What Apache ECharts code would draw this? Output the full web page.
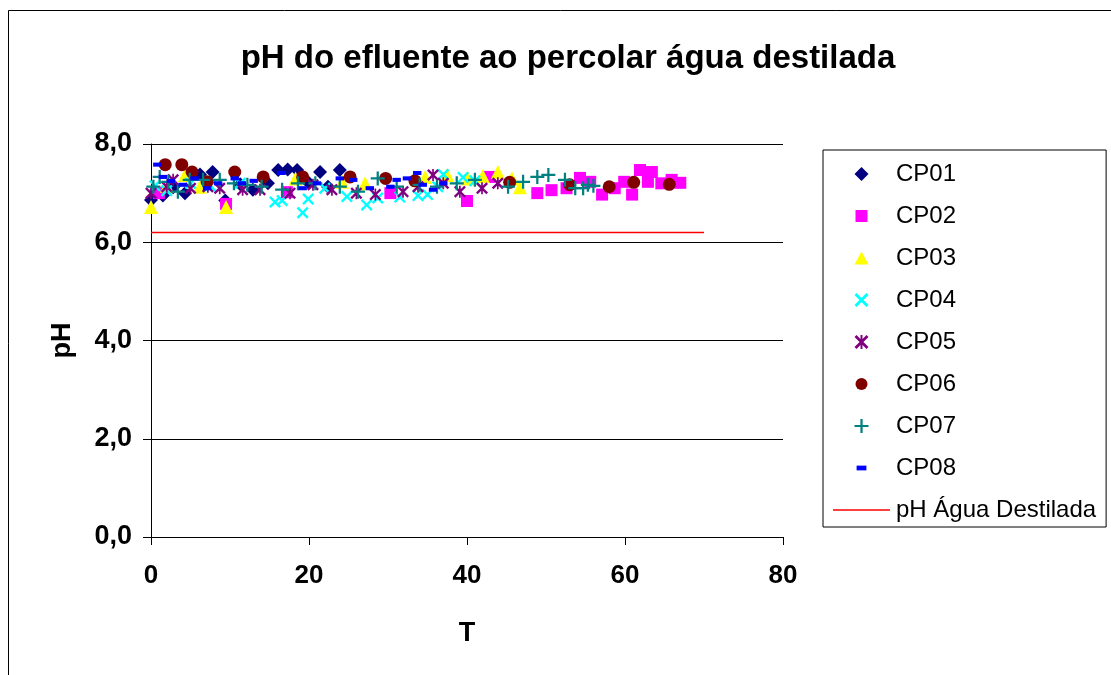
<!DOCTYPE html>
<html>
<head>
<meta charset="utf-8">
<script src="https://cdn.jsdelivr.net/npm/echarts@6/dist/echarts.min.js"></script>
<style>
  html, body { margin: 0; padding: 0; background: #ffffff; }
  #chart { width: 1111px; height: 675px; }
</style>
</head>
<body>
<div id="chart"></div>
<script>
const FONT = "'Liberation Sans', Arial, Helvetica, sans-serif";

// Series names (legend order)
const seriesNames = ['CP01', 'CP02', 'CP03', 'CP04', 'CP05', 'CP06', 'CP07', 'CP08'];
const refLineName = 'pH Água Destilada';

// Time (T) and pH readings for each column
const cp01T  = [0, 1.5, 2.8, 4.3, 6.2, 7.8, 9.4, 11.3, 12.9, 14.8, 16.1, 17.3, 18.5, 19.9, 21.4, 22.4, 23.9];
const cp01PH = [6.86, 6.95, 7.12, 7.0, 7.38, 7.43, 6.85, 7.18, 7.07, 7.2, 7.47, 7.48, 7.47, 7.22, 7.43, 7.13, 7.47];

const cp02T  = [1, 9.5, 17.2, 30.3, 40, 42.8, 48.9, 50.7, 52.6, 54.3, 55.6, 57.1, 58.7, 59.9, 60.9, 61.9, 62.9, 63.4, 64.6, 65.9, 67];
const cp02PH = [7.0, 6.78, 7.02, 7.0, 6.84, 7.33, 7.0, 7.06, 7.1, 7.31, 7.23, 6.97, 7.1, 7.23, 6.97, 7.47, 7.23, 7.43, 7.2, 7.27, 7.21];

const cp03T  = [0, 2, 4.3, 6.2, 9.5, 18.3, 24.2, 27.1, 34.7, 37.5, 40.1, 42, 43.9, 45.7, 46.7];
const cp03PH = [6.72, 7.15, 7.37, 7.13, 6.72, 7.3, 7.23, 7.2, 7.33, 7.37, 7.3, 7.35, 7.43, 7.3, 7.12];

const cp04T  = [0.5, 2, 5, 7.5, 11.3, 15.7, 16.6, 19.2, 19.9, 22, 24.8, 27.3, 28.7, 31.5, 33.8, 35, 36.3, 37, 39.5, 41];
const cp04PH = [7.15, 7.05, 7.2, 7.15, 7.2, 6.82, 6.85, 6.6, 6.88, 7.1, 6.93, 6.76, 6.9, 6.92, 6.95, 6.97, 7.13, 7.38, 7.32, 7.25];

const cp05T  = [0, 2, 2.8, 5, 7.2, 8.7, 11.6, 13.8, 17.6, 20.5, 22.9, 26, 28.4, 31.9, 33.8, 35.7, 37, 39.1, 41.9, 43.9];
const cp05PH = [7.0, 7.13, 7.27, 7.1, 7.13, 7.1, 7.07, 7.07, 7.0, 7.17, 7.07, 7.0, 6.97, 7.03, 7.13, 7.37, 7.2, 7.03, 7.1, 7.2];

const cp06T  = [1.8, 3.9, 5.2, 7.1, 10.6, 14.2, 19.2, 25.2, 29.7, 33.4, 45.4, 53, 58, 61.1, 65.6];
const cp06PH = [7.58, 7.58, 7.43, 7.23, 7.43, 7.33, 7.33, 7.33, 7.3, 7.25, 7.22, 7.17, 7.13, 7.22, 7.18];

const cp07T  = [0.3, 1.1, 2.2, 3.4, 4.9, 6.6, 8.7, 10.5, 12.2, 14, 16.6, 18.6, 20.8, 23.9, 26.2, 28.7, 31.1, 34, 36.2, 38.7, 41, 45.2, 47.1, 48.9, 50.3, 52.4, 53.7, 54.7, 55.3, 56];
const cp07PH = [7.13, 7.33, 7.23, 7.03, 7.27, 7.27, 7.27, 7.2, 7.17, 7.13, 7.07, 7.2, 7.2, 7.13, 7.03, 7.3, 7.13, 7.17, 7.13, 7.2, 7.27, 7.13, 7.23, 7.33, 7.37, 7.27, 7.1, 7.1, 7.17, 7.15];

const cp08T  = [0.8, 1.5, 2.5, 4, 5.5, 7.1, 8.5, 10.6, 11.5, 13, 16.5, 19.2, 21, 23.9, 25.6, 27.7, 30.3, 31.1, 32.4, 33.7, 34.4, 35.7, 37];
const cp08PH = [7.58, 7.33, 7.25, 7.17, 7.3, 7.1, 7.2, 7.3, 7.2, 7.25, 7.41, 7.1, 7.2, 7.3, 7.27, 7.1, 7.13, 7.27, 7.3, 7.41, 7.17, 7.07, 7.2];

// Reference: pH of the distilled water used for percolation
const refLineT  = [0, 70];
const refLinePH = [6.2, 6.2];

// Axis ranges
const xRange = { min: 0, max: 80, step: 20 };
const yRange = { min: 0, max: 8, step: 2 };

// Marker shapes (plot)
const SYM_X    = 'path://M0,1.4L1.4,0L5,3.6L8.6,0L10,1.4L6.4,5L10,8.6L8.6,10L5,6.4L1.4,10L0,8.6L3.6,5Z';
const SYM_AST  = 'path://M0,1.4L1.4,0L5,3.6L8.6,0L10,1.4L6.4,5L10,8.6L8.6,10L5,6.4L1.4,10L0,8.6L3.6,5Z M4.3,0H5.7V10H4.3Z';
const SYM_PLUS = 'path://M4.2,0H5.8V4.2H10V5.8H5.8V10H4.2V5.8H0V4.2H4.2Z';
const SYM_DASH = 'path://M0,0M1.5,3.3H8.5V6.7H1.5ZM10,10';

// Legend keys: square-bounded paths so they keep their proportions
const KEY_DIAMOND  = 'path://M7,0L14,7L7,14L0,7Z';
const KEY_SQUARE   = 'path://M0,0M1,1H13V13H1ZM14,14';
const KEY_TRIANGLE = 'path://M7,0.5L14,13.5L0,13.5ZM0,0M14,14';
const KEY_CIRCLE   = 'path://M0,0M7,1A6,6,0,1,1,7,13A6,6,0,1,1,7,1ZM14,14';
const KEY_LINE     = 'path://M0,0H57V1.6H0Z';

const markers = [
  { symbol: 'diamond',  size: 14, color: '#000080', key: KEY_DIAMOND },
  { symbol: 'rect',     size: 12, color: '#FF00FF', key: KEY_SQUARE },
  { symbol: 'triangle', size: 14, color: '#FFFF00', key: KEY_TRIANGLE },
  { symbol: SYM_X,      size: 12, color: '#00FFFF', key: SYM_X },
  { symbol: SYM_AST,    size: 12, color: '#800080', key: SYM_AST },
  { symbol: 'circle',   size: 13, color: '#800000', key: KEY_CIRCLE },
  { symbol: SYM_PLUS,   size: 14, color: '#008080', key: SYM_PLUS },
  { symbol: SYM_DASH,   size: 12, color: '#0000FF', key: SYM_DASH }
];

const seriesT  = [cp01T, cp02T, cp03T, cp04T, cp05T, cp06T, cp07T, cp08T];
const seriesPH = [cp01PH, cp02PH, cp03PH, cp04PH, cp05PH, cp06PH, cp07PH, cp08PH];

const pairs = (t, p) => t.map((v, i) => [v, p[i]]);

const scatterSeries = seriesNames.map((name, i) => ({
  name: name,
  type: 'scatter',
  data: pairs(seriesT[i], seriesPH[i]),
  symbol: markers[i].symbol,
  symbolSize: markers[i].size,
  itemStyle: { color: markers[i].color, opacity: 1 },
  emphasis: { disabled: true },
  z: 3 + i
}));

const refSeries = {
  name: refLineName,
  type: 'line',
  data: pairs(refLineT, refLinePH),
  symbol: 'none',
  showSymbol: false,
  lineStyle: { color: '#FF0000', width: 1.6 },
  itemStyle: { color: '#FF0000' },
  emphasis: { disabled: true },
  z: 2
};

const legendData = seriesNames.map((n, i) => ({ name: n, icon: markers[i].key, itemStyle: { color: markers[i].color } }))
  .concat([{ name: refLineName, icon: KEY_LINE, itemStyle: { color: '#FF0000' } }]);

const chart = echarts.init(document.getElementById('chart'), null, { renderer: 'canvas' });

chart.setOption({
  animation: false,
  backgroundColor: '#ffffff',
  textStyle: { fontFamily: FONT },
  title: {
    text: 'pH do efluente ao percolar água destilada',
    left: 568,
    textAlign: 'center',
    top: 42,
    padding: 0,
    textStyle: { fontFamily: FONT, fontSize: 33, fontWeight: 'bold', color: '#000' }
  },
  grid: { left: 151, right: 328, top: 144, bottom: 138, containLabel: false },
  xAxis: {
    type: 'value',
    min: xRange.min, max: xRange.max, interval: xRange.step,
    name: 'T',
    nameLocation: 'middle',
    nameGap: 83,
    nameTextStyle: { fontFamily: FONT, fontSize: 27, fontWeight: 'bold', color: '#000' },
    axisLine: { show: true, onZero: false, lineStyle: { color: '#000', width: 1 } },
    axisTick: { show: true, inside: false, length: 8, lineStyle: { color: '#000', width: 1 } },
    axisLabel: { fontFamily: FONT, fontSize: 26, fontWeight: 'bold', color: '#000', margin: 26 },
    splitLine: { show: false }
  },
  yAxis: {
    type: 'value',
    min: yRange.min, max: yRange.max, interval: yRange.step,
    name: 'pH',
    nameLocation: 'middle',
    nameGap: 75,
    nameRotate: 90,
    nameTextStyle: { fontFamily: FONT, fontSize: 27, fontWeight: 'bold', color: '#000' },
    axisLine: { show: true, lineStyle: { color: '#000', width: 1 } },
    axisTick: { show: true, inside: false, length: 8, lineStyle: { color: '#000', width: 1 } },
    axisLabel: {
      fontFamily: FONT, fontSize: 27, fontWeight: 'bold', color: '#000', margin: 19,
      formatter: v => v.toFixed(1).replace('.', ',')
    },
    splitLine: { show: true, lineStyle: { color: '#000', width: 1 } }
  },
  legend: {
    orient: 'vertical',
    left: 823,
    top: 150,
    padding: [9, 10, 2, 10],
    itemWidth: 57,
    itemHeight: 14,
    itemGap: 12,
    symbolKeepAspect: true,
    borderColor: '#000',
    borderWidth: 1,
    backgroundColor: '#ffffff',
    selectedMode: false,
    textStyle: { fontFamily: FONT, fontSize: 24, color: '#000', lineHeight: 30, padding: [0, 0, 0, 1] },
    data: legendData
  },
  graphic: [{
    type: 'rect',
    silent: true,
    z: -10,
    shape: { x: 8.5, y: 10.5, width: 1200, height: 800 },
    style: { fill: 'none', stroke: '#000', lineWidth: 1 }
  }],
  series: [refSeries].concat(scatterSeries)
});
</script>
</body>
</html>
